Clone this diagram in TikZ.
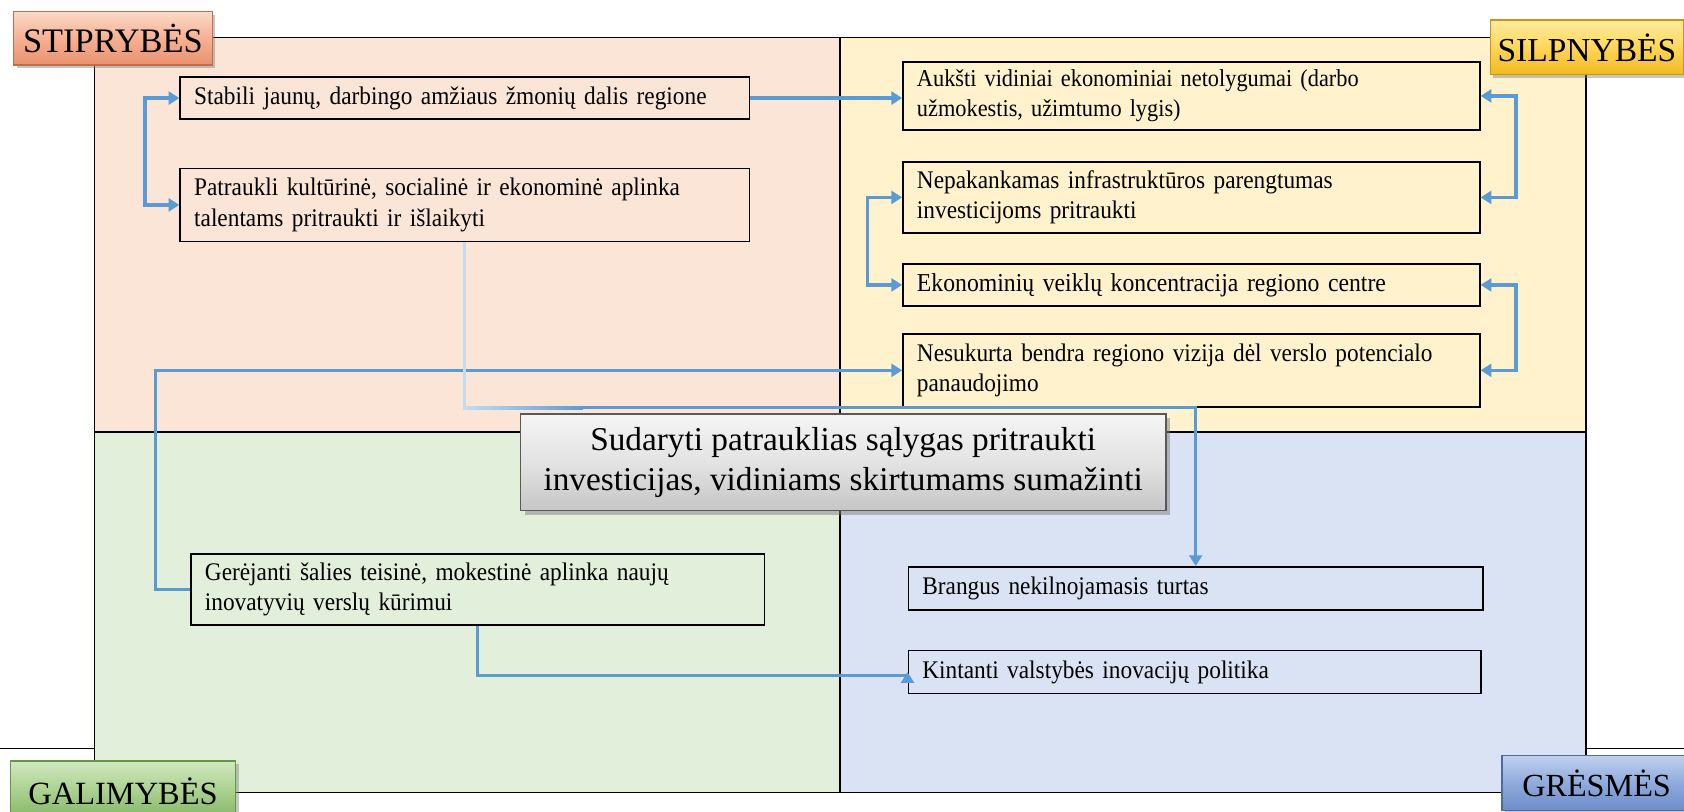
\documentclass[tikz,border=0pt]{standalone}
\usepackage{fontspec}
\setmainfont{Liberation Serif}
\newfontfamily\narrowserif{Liberation Serif}[FakeStretch=0.92]
\usetikzlibrary{arrows.meta,shadows,calc}
\definecolor{qpeach}{HTML}{FBE5D6}
\definecolor{qyellow}{HTML}{FFF2CC}
\definecolor{qgreen}{HTML}{E2EFDA}
\definecolor{qblue}{HTML}{DAE3F3}
\definecolor{lineblue}{HTML}{5B9BD5}
\definecolor{lightblue}{HTML}{C5DCF0}
\begin{document}
\begin{tikzpicture}[x=0.5pt,y=-0.5pt,
  item/.style={draw=black, line width=0.8pt, text width=#1, align=left,
    inner xsep=6.5pt, inner ysep=2pt, anchor=north west,
    font=\narrowserif\fontsize{11.8}{14.2}\selectfont},
  link/.style={draw=lineblue, line width=1.5pt},
  tip/.style={-{Triangle[length=5pt,width=6pt]}},
  tips/.style={{Triangle[length=5pt,width=6pt]}-{Triangle[length=5pt,width=6pt]}},
  corner/.style={line width=0.6pt, anchor=north west,
    font=\fontsize{15}{15}\selectfont, inner sep=0pt,
    drop shadow={shadow xshift=1.5pt,shadow yshift=-1.5pt,opacity=0.45}},
  goal/.style={draw=gray!70!black, line width=0.6pt, anchor=north west, align=center,
    font=\fontsize{15.5}{19}\selectfont, inner sep=0pt,
    top color=gray!8, bottom color=gray!45, middle color=gray!22,
    drop shadow={shadow xshift=2pt,shadow yshift=-2pt,opacity=0.5}}
]
\useasboundingbox (0,0) rectangle (1568,756);
% quadrants
\fill[qpeach] (88,35) rectangle (782,402);
\fill[qyellow] (782,35) rectangle (1477,402);
\fill[qgreen] (88,402) rectangle (782,738);
\fill[qblue] (782,402) rectangle (1477,738);
\draw[line width=0.8pt] (88,35) rectangle (1477,738);
\draw[line width=0.8pt] (782,35) -- (782,738);
\draw[line width=0.8pt] (88,402) -- (1477,402);
\draw[line width=0.8pt] (0,697) -- (88,697);
\draw[line width=0.8pt] (1477,697) -- (1568,697);

% items
\node[item=252pt, minimum height=19.5pt] (S1) at (167,71) {Stabili jaunų, darbingo amžiaus žmonių dalis regione};
\node[item=252pt, minimum height=34pt, font=\narrowserif\fontsize{11.8}{14.8}\selectfont] (S2) at (167,156) {Patraukli kultūrinė, socialinė ir ekonominė aplinka\\talentams pritraukti ir išlaikyti};
\node[item=255.5pt, minimum height=31.5pt, font=\narrowserif\fontsize{11.3}{14.2}\selectfont] (W1) at (840,57) {Aukšti vidiniai ekonominiai netolygumai (darbo\\užmokestis, užimtumo lygis)};
\node[item=255.5pt, minimum height=33pt] (W2) at (840,150) {Nepakankamas infrastruktūros parengtumas\\investicijoms pritraukti};
\node[item=255.5pt, minimum height=19.5pt, font=\narrowserif\fontsize{12}{14.2}\selectfont] (W3) at (840,245) {Ekonominių veiklų koncentracija regiono centre};
\node[item=255.5pt, minimum height=34pt] (W4) at (840,310) {Nesukurta bendra regiono vizija dėl verslo potencialo\\panaudojimo};
\node[item=254pt, minimum height=33pt] (O1) at (177,515) {Gerėjanti šalies teisinė, mokestinė aplinka naujų\\inovatyvių verslų kūrimui};
\node[item=254.5pt, minimum height=20pt] (T1) at (845,527) {Brangus nekilnojamasis turtas};
\node[item=253.5pt, minimum height=20pt] (T2) at (845,605) {Kintanti valstybės inovacijų politika};

% connectors
\draw[link,tips] (S1.west) -- ++(-32,0) |- (S2.west);
\draw[link,tip] (S1.east) -- (S1.east -| W1.west);
\draw[link,tips] (W1.east) -- ++(33,0) |- (W2.east);
\draw[link,tips] (W2.west) -- ++(-32,0) |- (W3.west);
\draw[link,tips] (W3.east) -- ++(33,0) |- (W4.east);
\draw[link,tip] (O1.west) -- ++(-32,0) |- (W4.west);
\draw[link,tip] (S2.south) -- ++(0,154) -| (T1.north);
\draw[link,draw=lightblue] (S2.south) -- ++(0,154);
\shade[left color=lightblue,right color=lineblue] ($(S2.south)+(-1.5,152.5)$) rectangle ($(S2.south)+(110,155.5)$);
\draw[link,tip] (O1.south) -- ++(0,46) -| (T2.west);

% goal
\node[goal, minimum width=300.5pt, minimum height=45pt] (G) at (484,385) {Sudaryti patrauklias sąlygas pritraukti\\investicijas, vidiniams skirtumams sumažinti};

% corner labels
\node[corner, minimum width=92.5pt, minimum height=25pt, font=\fontsize{16}{16}\selectfont,
  draw={rgb,255:red,190;green,110;blue,80},
  top color={rgb,255:red,251;green,218;blue,200}, bottom color={rgb,255:red,232;green,145;blue,110},
  middle color={rgb,255:red,246;green,176;blue,146}] (LS) at (12,10) {STIPRYBĖS};
\node[corner, minimum width=90pt, minimum height=25.5pt, font=\fontsize{15.6}{15.6}\selectfont,
  draw={rgb,255:red,200;green,150;blue,20},
  top color={rgb,255:red,255;green,236;blue,160}, bottom color={rgb,255:red,240;green,185;blue,30},
  middle color={rgb,255:red,255;green,214;blue,90}] (LW) at (1387,18) {SILPNYBĖS};
\node[corner, minimum width=105pt, minimum height=28pt, font=\fontsize{15.1}{15.1}\selectfont,
  draw={rgb,255:red,100;green,150;blue,70},
  top color={rgb,255:red,208;green,232;blue,192}, bottom color={rgb,255:red,128;green,178;blue,98},
  middle color={rgb,255:red,169;green,209;blue,142}] (LO) at (9,708) {GALIMYBĖS};
\node[corner, minimum width=88pt, minimum height=25.5pt,
  draw={rgb,255:red,80;green,105;blue,160},
  top color={rgb,255:red,192;green,208;blue,238}, bottom color={rgb,255:red,108;green,140;blue,202},
  middle color={rgb,255:red,143;green,170;blue,220}] (LT) at (1398,703) {GRĖSMĖS};
\end{tikzpicture}
\end{document}
